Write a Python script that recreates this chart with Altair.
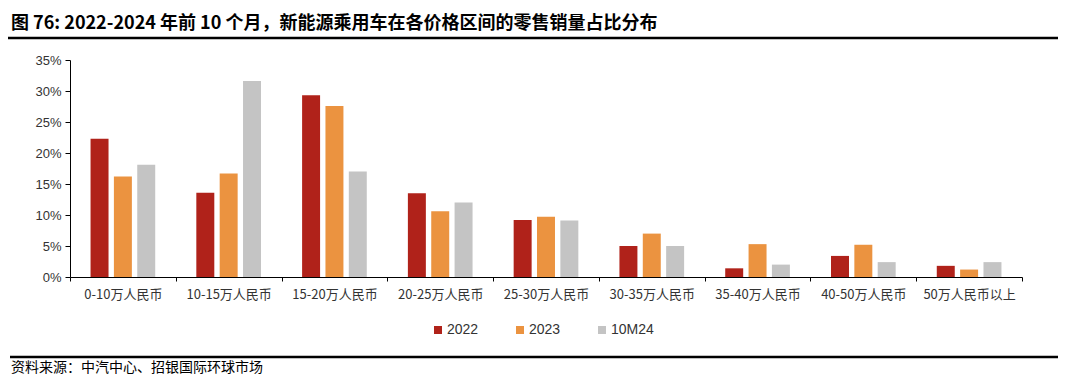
import altair as alt
import pandas as pd

categories = ["0-10万人民币", "10-15万人民币", "15-20万人民币", "20-25万人民币", "25-30万人民币",
              "30-35万人民币", "35-40万人民币", "40-50万人民币", "50万人民币以上"]
series = ["2022", "2023", "10M24"]
v2022 = [22.3, 13.6, 29.3, 13.5, 9.2, 5.0, 1.4, 3.4, 1.8]
v2023 = [16.2, 16.7, 27.6, 10.6, 9.7, 7.0, 5.3, 5.2, 1.2]
v10m24 = [18.1, 31.6, 17.0, 12.0, 9.1, 5.0, 2.0, 2.4, 2.4]
colors = ["#B0221A", "#EB9340", "#C4C4C4"]
y_ticks = [0, 5, 10, 15, 20, 25, 30, 35]
title_text = ["图 76: 2022-2024 年前 10 个月，新能源乘用车在各价格区间的零售销量占比分布"]
source_text = ["资料来源：中汽中心、招银国际环球市场"]

rows = []
for s, vals in zip(series, [v2022, v2023, v10m24]):
    for c, v in zip(categories, vals):
        rows.append({"category": c, "series": s, "value": v})
df = pd.DataFrame(rows)

W, H = 952, 217
CJK = "Noto Sans CJK SC"
LAT = "Liberation Sans"

bars = alt.Chart(df).mark_bar().encode(
    x=alt.X("category:N", sort=categories,
            scale=alt.Scale(paddingInner=0, paddingOuter=0),
            axis=alt.Axis(title=None, labelAngle=0, tickBand="extent", domainColor="black",
                          tickColor="black", tickSize=4, labelFont=CJK, labelFontSize=13,
                          labelColor="#333333", labelPadding=7, grid=False)),
    xOffset=alt.XOffset("series:N", sort=series,
                        scale=alt.Scale(paddingInner=0.23, paddingOuter=0.88)),
    y=alt.Y("value:Q", scale=alt.Scale(domain=[0, 35]),
            axis=alt.Axis(values=y_ticks, labelExpr="datum.value + '%'", title=None, grid=False,
                          domainColor="black", tickColor="black", tickSize=5,
                          labelFont=LAT, labelFontSize=13, labelColor="#333333", labelPadding=4)),
    color=alt.Color("series:N", sort=series,
                    scale=alt.Scale(domain=series, range=colors),
                    legend=alt.Legend(title=None, orient="none", direction="horizontal",
                                      legendX=361, legendY=263, symbolType="square",
                                      symbolSize=64, symbolStrokeWidth=0, labelFont=LAT,
                                      labelFontSize=14, labelColor="#333333", labelOffset=2,
                                      columnPadding=34)),
)

title_mark = alt.Chart(alt.Data(values=[{"t": t} for t in title_text])).mark_text(
    align="left", baseline="alphabetic", fontSize=18, fontWeight="bold", font=CJK, color="black"
).encode(x=alt.value(-59), y=alt.value(-31), text="t:N")

source_mark = alt.Chart(alt.Data(values=[{"t": t} for t in source_text])).mark_text(
    align="left", baseline="middle", fontSize=14, font=CJK, color="black"
).encode(x=alt.value(-59), y=alt.value(308), text="t:N")

top_rule = alt.Chart(alt.Data(values=[{"k": 1}])).mark_rule(
    color="black", strokeWidth=2.5
).encode(x=alt.value(-62), x2=alt.value(988), y=alt.value(-22))

bottom_rule = alt.Chart(alt.Data(values=[{"k": 1}])).mark_rule(
    color="black", strokeWidth=2.5
).encode(x=alt.value(-60), x2=alt.value(992), y=alt.value(297))

chart = alt.layer(bars, title_mark, source_mark, top_rule, bottom_rule).properties(
    width=W, height=H,
    autosize=alt.AutoSizeParams(type="none"),
    padding={"left": 62, "top": 52, "right": 36, "bottom": 99},
).configure(background="white").configure_view(stroke=None)

chart.save("out.html", embed_options={"renderer": "svg", "actions": False})
